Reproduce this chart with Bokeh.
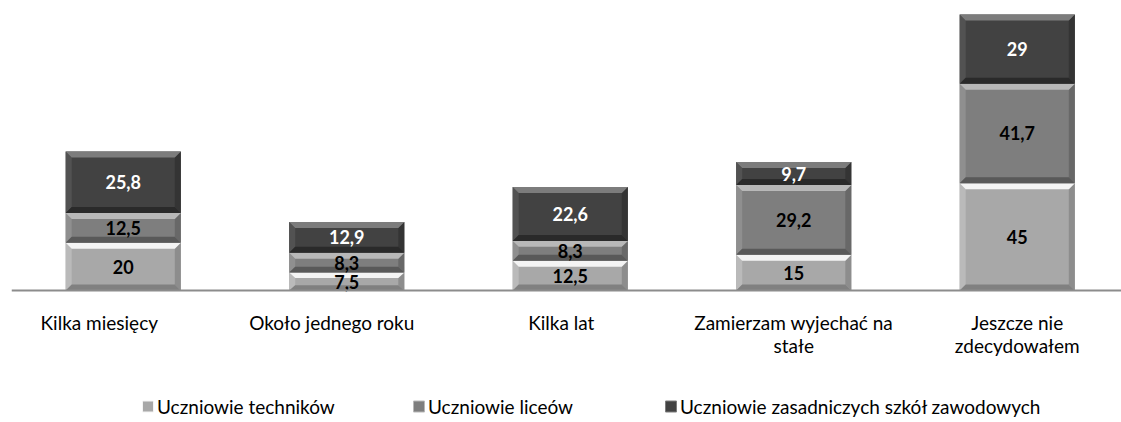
from bokeh.plotting import figure
from bokeh.models import Range1d, Span
from bokeh.embed import file_html
from bokeh.resources import INLINE
from bokeh.core.properties import value

# ---- data ----
categories = ["Kilka miesięcy", "Około jednego roku", "Kilka lat",
              "Zamierzam wyjechać na\nstałe", "Jeszcze nie\nzdecydowałem"]
series_names = ["Uczniowie techników", "Uczniowie liceów",
                "Uczniowie zasadniczych szkół zawodowych"]
technikow = [20, 7.5, 12.5, 15, 45]
liceow = [12.5, 8.3, 8.3, 29.2, 41.7]
zasadniczych = [25.8, 12.9, 22.6, 9.7, 29]
series_values = [technikow, liceow, zasadniczych]

# ---- style ----
FONT = "Lato"
face_colors = ["#a8a8a8", "#7e7e7e", "#424242"]
top_colors = ["#f4f4f4", "#b8b8b8", "#7c7c7c"]
bottom_colors = ["#808080", "#595959", "#2a2a2a"]
left_colors = ["#bababa", "#8f8f8f", "#525252"]
right_colors = ["#8d8d8d", "#686868", "#343434"]
label_colors = ["#000000", "#000000", "#ffffff"]
label_offsets_px = [-24, -15, -9, 0, 0]

PX_X = 223.5   # px per category
PX_Y = 2.385   # px per value unit
BAR_W = 0.515
BEV_PX = 6
Y0 = 290       # pixel row of value 0

W, H = 1121, 422
LEFT = 11
p = figure(width=W, height=H, output_backend="svg", toolbar_location=None,
           x_axis_location=None, y_axis_location=None,
           min_border_left=LEFT, min_border_right=0, min_border_top=0, min_border_bottom=0,
           outline_line_color=None, background_fill_color="white")
p.grid.visible = False
p.x_range = Range1d(-0.5, -0.5 + (W - LEFT) / PX_X)
p.y_range = Range1d(-(H - Y0) / PX_Y, Y0 / PX_Y)


def xa(px):
    return -0.5 + (px - LEFT) / PX_X


def ya(px):
    return (Y0 - px) / PX_Y


# axis line
p.add_layout(Span(location=0, dimension="width", line_color="#8c8c8c", line_width=2))

# ---- bars ----
n = len(categories)
bottoms = [0.0] * n
bdx = BEV_PX / PX_X
bdy = BEV_PX / PX_Y
for s, vals in enumerate(series_values):
    fx, fy = [], []
    top_x, top_y, bot_x, bot_y = [], [], [], []
    lx, ly, rx, ry = [], [], [], []
    lab_x, lab_y, lab_t = [], [], []
    for i, v in enumerate(vals):
        l, r = i - BAR_W / 2, i + BAR_W / 2
        b, t = bottoms[i], bottoms[i] + v
        m = b + v / 2
        dy = min(bdy, v * 0.3)
        fx.append([l, r, r, l]); fy.append([b, b, t, t])
        top_x.append([l, r, r - bdx, l + bdx]); top_y.append([t, t, t - dy, t - dy])
        bot_x.append([l, r, r - bdx, l + bdx]); bot_y.append([b, b, b + dy, b + dy])
        lx.append([l, l + bdx, l + bdx, l]); ly.append([b, b + dy, t - dy, t])
        rx.append([r, r - bdx, r - bdx, r]); ry.append([b, b + dy, t - dy, t])
        lab_x.append(i); lab_y.append(m)
        lab_t.append(("%g" % v).replace(".", ","))
        bottoms[i] = t
    p.patches(fx, fy, fill_color=face_colors[s], line_color=None)
    p.patches(lx, ly, fill_color=left_colors[s], line_color=None)
    p.patches(rx, ry, fill_color=right_colors[s], line_color=None)
    p.patches(bot_x, bot_y, fill_color=bottom_colors[s], line_color=None)
    p.patches(top_x, top_y, fill_color=top_colors[s], line_color=None)
    p.text(lab_x, lab_y, text=lab_t, text_align="center", text_baseline="middle",
           text_font=value(FONT), text_font_style="bold", text_font_size="18px",
           text_color=label_colors[s])

# ---- category labels ----
cx, cy, ct = [], [], []
for i, c in enumerate(categories):
    for j, line in enumerate(c.split("\n")):
        cx.append(i + label_offsets_px[i] / PX_X)
        cy.append(ya(322 + 23 * j))
        ct.append(line)
p.text(cx, cy, text=ct, text_align="center", text_baseline="middle",
       text_font=value(FONT), text_font_size="19px", text_color="#000000")

# ---- legend ----
leg_sq_x = [147.5, 418.5, 670.5]
leg_y = 406
for s, name in enumerate(series_names):
    p.rect([xa(leg_sq_x[s])], [ya(leg_y)], width=11, height=11,
           width_units="screen", height_units="screen",
           fill_color=face_colors[s], line_color=top_colors[s], line_width=1)
    p.text([xa(leg_sq_x[s] + 9)], [ya(leg_y)], text=[name], text_align="left",
           text_baseline="middle", text_font=value(FONT), text_font_size="19px",
           text_color="#000000")

open("out.html", "w").write(file_html(p, INLINE))
